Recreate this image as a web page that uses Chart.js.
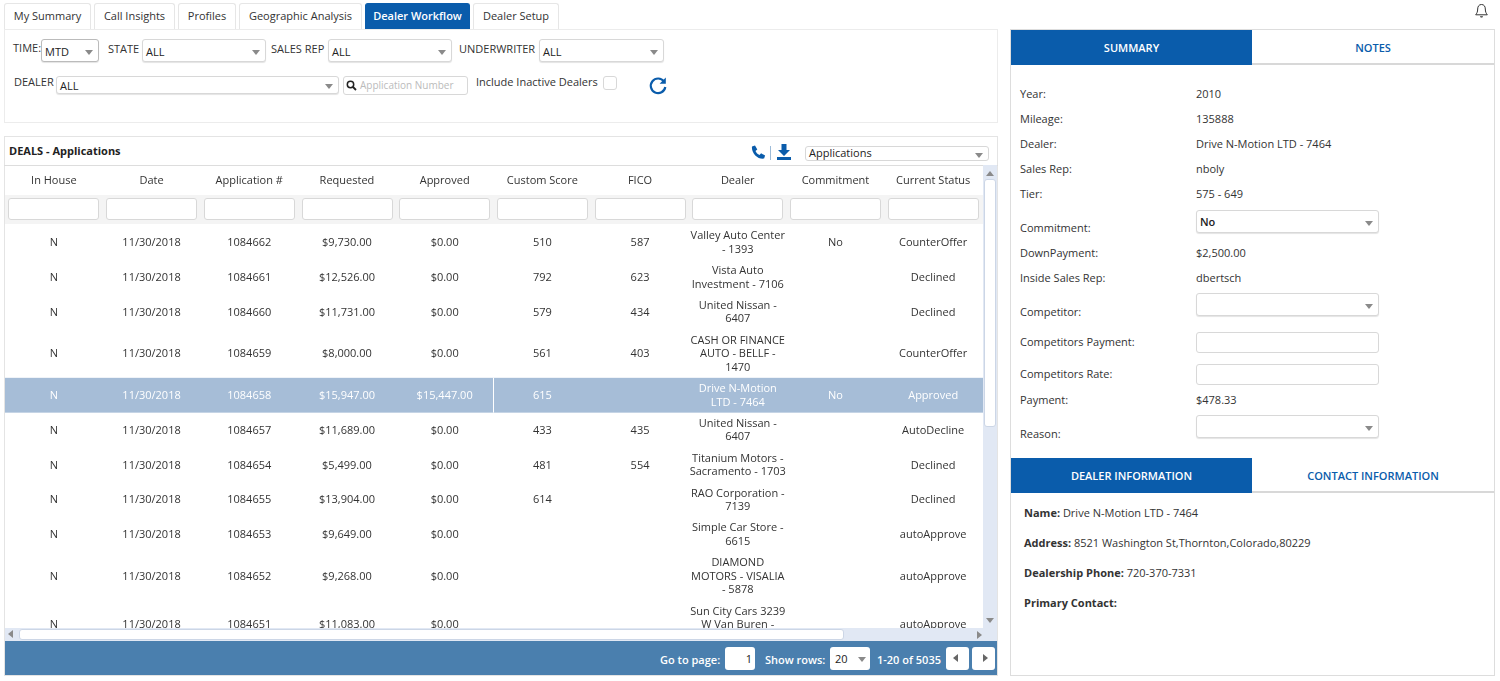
<!DOCTYPE html>
<html>
<head>
<meta charset="utf-8">
<title>Dealer Workflow</title>
<script src="https://cdn.jsdelivr.net/npm/chart.js@4"></script>
<style>
  html, body { margin: 0; padding: 0; background: #fff; width: 1500px; height: 681px; overflow: hidden; }
  body { font: 11px "Open Sans", sans-serif; color: #333; position: relative; }
  .a { position: absolute; white-space: nowrap; }
  .tab { position: absolute; top: 3px; height: 26px; line-height: 24px; text-align: center; border: 1px solid #e6e6e6; border-bottom: 0; border-radius: 3px 3px 0 0; box-sizing: border-box; background: #fff; }
  .tab.on { background: #0a5cab; color: #fff; font-weight: 600; border-color: #0a5cab; }
  .sel, .inp { position: absolute; box-sizing: border-box; border: 1px solid #d8d8d8; border-radius: 3px; background: #fff; }
  .sel { box-shadow: 0 1px 1px #e4e4e4; }
  .sel span { position: absolute; left: 3px; bottom: 2px; color: #222; }
  .sel:after { content: ""; position: absolute; right: 5px; top: 50%; margin-top: -1px; border: 4px solid transparent; border-top: 5px solid #8a8a8a; border-bottom: 0; }
  .box { position: absolute; box-sizing: border-box; border: 1px solid #e4e4e4; background: #fff; }
  .ptab { position: absolute; height: 35px; line-height: 35px; text-align: center; font-weight: 600; box-sizing: border-box; }
  .ptab.on { background: #0a5cab; color: #fff; }
  .ptab.off { color: #0a5cab; background: #fff; border-bottom: 2px solid #d8d8d8; }
  #wrap { position: absolute; left: 5px; top: 165px; width: 978px; height: 463px; }
  #filter { position: absolute; left: 5px; top: 195px; width: 978px; height: 29px; background: #f4f4f4; }
  .track { position: absolute; background: #e1e8f4; }
  .thumb { position: absolute; background: #fff; border: 1px solid #ccd6e6; border-radius: 3px; box-sizing: border-box; }
  .arrow { position: absolute; width: 0; height: 0; border: 4px solid transparent; }
  .pager { position: absolute; left: 5px; top: 641px; width: 992px; height: 34px; background: #4a7fae; }
  .pl { position: absolute; color: #fff; font-weight: 600; top: 11px; white-space: nowrap; }
  .pb { position: absolute; background: #fff; border-radius: 3px; top: 6px; height: 23px; box-sizing: border-box; }
</style>
</head>
<body>
<div id="root"></div>
<div class="box" style="left:4px;top:136px;width:994px;height:540px"></div>
<div id="filter"></div>
<div id="wrap"><canvas id="myChart" width="978" height="463"></canvas></div>
<div id="chrome"></div>

<script>
// Table data
const columns = ['In House', 'Date', 'Application #', 'Requested', 'Approved', 'Custom Score', 'FICO', 'Dealer', 'Commitment', 'Current Status'];
const inHouse = ['N', 'N', 'N', 'N', 'N', 'N', 'N', 'N', 'N', 'N', 'N'];
const dates = ['11/30/2018', '11/30/2018', '11/30/2018', '11/30/2018', '11/30/2018', '11/30/2018', '11/30/2018', '11/30/2018', '11/30/2018', '11/30/2018', '11/30/2018'];
const appNumbers = ['1084662', '1084661', '1084660', '1084659', '1084658', '1084657', '1084654', '1084655', '1084653', '1084652', '1084651'];
const requested = ['$9,730.00', '$12,526.00', '$11,731.00', '$8,000.00', '$15,947.00', '$11,689.00', '$5,499.00', '$13,904.00', '$9,649.00', '$9,268.00', '$11,083.00'];
const approved = ['$0.00', '$0.00', '$0.00', '$0.00', '$15,447.00', '$0.00', '$0.00', '$0.00', '$0.00', '$0.00', '$0.00'];
const customScores = ['510', '792', '579', '561', '615', '433', '481', '614', '', '', ''];
const ficoScores = ['587', '623', '434', '403', '', '435', '554', '', '', '', ''];
const dealers = [
  ['Valley Auto Center', '- 1393'],
  ['Vista Auto', 'Investment - 7106'],
  ['United Nissan -', '6407'],
  ['CASH OR FINANCE', 'AUTO - BELLF -', '1470'],
  ['Drive N-Motion', 'LTD - 7464'],
  ['United Nissan -', '6407'],
  ['Titanium Motors -', 'Sacramento - 1703'],
  ['RAO Corporation -', '7139'],
  ['Simple Car Store -', '6615'],
  ['DIAMOND', 'MOTORS - VISALIA', '- 5878'],
  ['Sun City Cars 3239', 'W Van Buren -', '']
];
const commitments = ['No', '', '', '', 'No', '', '', '', '', '', ''];
const statuses = ['CounterOffer', 'Declined', 'Declined', 'CounterOffer', 'Approved', 'AutoDecline', 'Declined', 'Declined', 'autoApprove', 'autoApprove', 'autoApprove'];
const selectedRow = 4;

const tabNames = ['My Summary', 'Call Insights', 'Profiles', 'Geographic Analysis', 'Dealer Workflow', 'Dealer Setup'];
const summaryLabels = ['Year:', 'Mileage:', 'Dealer:', 'Sales Rep:', 'Tier:', 'Commitment:', 'DownPayment:', 'Inside Sales Rep:', 'Competitor:', 'Competitors Payment:', 'Competitors Rate:', 'Payment:', 'Reason:'];
const summaryValues = ['2010', '135888', 'Drive N-Motion LTD - 7464', 'nboly', '575 - 649', '', '$2,500.00', 'dbertsch', '', '', '', '$478.33', ''];
const dealerInfoLabels = ['Name:', 'Address:', 'Dealership Phone:', 'Primary Contact:'];
const dealerInfoValues = ['Drive N-Motion LTD - 7464', '8521 Washington St,Thornton,Colorado,80229', '720-370-7331', ''];

// y axis is counted in text lines, a row is its dealer lines plus some padding
const rowPad = 0.58;
const linePx = 13.5;
let rowTops = [];
let rowMids = [];
let runningTop = 0;
dealers.forEach(lines => {
  rowTops.push(runningTop);
  rowMids.push(runningTop + (lines.length + rowPad) / 2);
  runningTop += lines.length + rowPad;
});

const columnValues = [inHouse, dates, appNumbers, requested, approved, customScores, ficoScores, dealers, commitments, statuses];

const datasets = columns.map((name, c) => ({
  label: name,
  showLine: false,
  pointRadius: 0,
  data: columnValues[c].map((v, r) => ({ x: name, y: rowMids[r], cell: v, row: r }))
}));

// draws the selected row band and the cell text at the positions the scales gave
const cellText = {
  id: 'cellText',
  beforeDatasetsDraw(chart) {
    const { ctx, chartArea, scales } = chart;
    const top = scales.y.getPixelForValue(rowTops[selectedRow]);
    const bottom = scales.y.getPixelForValue(rowTops[selectedRow + 1]);
    ctx.save();
    ctx.fillStyle = '#a6bdd7';
    ctx.fillRect(chartArea.left, top, chart.width, bottom - top);
    // the resize handle between Approved and Custom Score
    const edge = Math.round((scales.x.getPixelForValue(4) + scales.x.getPixelForValue(5)) / 2) - 0.5;
    ctx.strokeStyle = '#fff';
    ctx.beginPath();
    ctx.moveTo(edge, top);
    ctx.lineTo(edge, bottom);
    ctx.stroke();
    ctx.restore();
  },
  afterDatasetsDraw(chart) {
    const ctx = chart.ctx;
    ctx.save();
    ctx.font = '11px "Open Sans"';
    ctx.textAlign = 'center';
    ctx.textBaseline = 'middle';
    chart.data.datasets.forEach((ds, i) => {
      chart.getDatasetMeta(i).data.forEach((pt, j) => {
        const raw = ds.data[j];
        const lines = Array.isArray(raw.cell) ? raw.cell : [raw.cell];
        ctx.fillStyle = raw.row === selectedRow ? '#fff' : '#333';
        lines.forEach((line, k) => {
          if (line) ctx.fillText(line, pt.x, pt.y + 0.5 + (k - (lines.length - 1) / 2) * linePx);
        });
      });
    });
    ctx.restore();
  }
};

new Chart(document.getElementById('myChart'), {
  type: 'line',
  data: { labels: columns, datasets: datasets },
  plugins: [cellText],
  options: {
    responsive: false,
    animation: false,
    events: [],
    layout: { padding: { right: 1 } },
    plugins: { legend: { display: false }, tooltip: { enabled: false } },
    scales: {
      x: {
        type: 'category',
        position: 'top',
        offset: true,
        grid: { display: false, drawTicks: false },
        border: { display: false },
        ticks: { color: '#333', padding: 38, maxRotation: 0, autoSkip: false, font: { family: 'Open Sans', size: 11 } },
        afterFit(scale) {
          scale.height = 60;
          scale.paddingLeft = 0;
          scale.paddingRight = 0;
        }
      },
      y: {
        display: false,
        reverse: true,
        min: 0,
        max: 403 / linePx
      }
    }
  }
});

// page chrome around the chart
let html = '';
const tabLefts = [4, 94, 178, 239, 365, 473];
const tabWidths = [87, 81, 58, 123, 105, 86];
tabNames.forEach((t, i) => {
  html += `<div class="tab${i === 4 ? ' on' : ''}" style="left:${tabLefts[i]}px;width:${tabWidths[i]}px">${t}</div>`;
});
html += '<div class="box" style="left:4px;top:29px;width:994px;height:94px;border-color:#ececec"></div>';

function label(text, x, y, extra) {
  html += `<div class="a" style="left:${x}px;top:${y - 8}px;line-height:16px;${extra || ''}">${text}</div>`;
}
function select(x, y, w, h, text, extra, textBottom) {
  const b = textBottom === undefined ? 2 : textBottom;
  html += `<div class="sel" style="left:${x}px;top:${y}px;width:${w}px;height:${h}px;${extra || ''}"><span style="bottom:${b}px">${text}</span></div>`;
}
function input(x, y, w, h) {
  html += `<div class="inp" style="left:${x}px;top:${y}px;width:${w}px;height:${h}px"></div>`;
}

label('TIME:', 13, 48);
select(41, 39, 58, 23, 'MTD', 'border-color:#bbb');
label('STATE', 108, 49);
select(142, 39, 124, 23, 'ALL');
label('SALES REP', 271, 49);
select(328, 39, 124, 23, 'ALL');
label('UNDERWRITER', 459, 49);
select(539, 39, 125, 23, 'ALL');
label('DEALER', 14, 82);
select(56, 76, 283, 18, 'ALL', '', 0);
input(343, 76, 125, 19);
html += '<svg class="a" style="left:346px;top:80px" width="11" height="11" viewBox="0 0 11 11"><circle cx="4.5" cy="4.5" r="3.2" fill="none" stroke="#222" stroke-width="1.5"/><path d="M7 7l3 3" stroke="#222" stroke-width="1.8"/></svg>';
label('Application Number', 360, 85, 'color:#bbb;font-size:10px');
label('Include Inactive Dealers', 476, 82);
input(603, 76, 14, 14);
html += '<svg class="a" style="left:648px;top:76px" width="20" height="20" viewBox="0 0 20 20"><path d="M16 5.500A7.300 7.300 0 1 0 17.300 11" fill="none" stroke="#0a5cab" stroke-width="2.200"/><path d="M17.800 1.500v6.200h-6.200z" fill="#0a5cab"/></svg>';

html += '<div class="a" style="left:4px;top:165px;width:994px;height:1px;background:#ddd"></div>';
label('DEALS - Applications', 9, 151, 'font-weight:700;color:#222');
html += '<svg class="a" style="left:750px;top:145px" width="16" height="16" viewBox="0 0 16 16"><path d="M2 1.500l3-1 2.300 4-1.800 1.600c.8 1.800 2.200 3.200 4 4l1.600-1.800 4 2.300-1 3c-6 1.200-13-5.500-12.100-12.100z" fill="#0a5cab"/></svg>';
html += '<div class="a" style="left:770px;top:146px;width:1px;height:14px;background:#9dbbd8"></div>';
html += '<svg class="a" style="left:776px;top:144px" width="16" height="16" viewBox="0 0 16 16"><path d="M5.500 0h5v6h3.500L8 12 2 6h3.500zM1 13h14v3H1z" fill="#0a5cab"/></svg>';
select(805, 146, 184, 15, 'Applications', 'box-shadow:none', 0);

const filterBoxLefts = [8, 106, 204, 302, 399, 497, 595, 692, 790, 888];
filterBoxLefts.forEach(x => input(x, 198, 91, 22));

// scrollbars
html += '<div class="track" style="left:983px;top:165px;width:14px;height:476px"></div>';
html += '<div class="thumb" style="left:984px;top:179px;width:12px;height:248px"></div>';
html += '<div class="arrow" style="left:986px;top:165px;border-bottom:5px solid #8a8a8a;border-top:0;margin-top:6px"></div>';
html += '<div class="arrow" style="left:986px;top:618px;border-top:5px solid #8a8a8a;border-bottom:0"></div>';
html += '<div class="track" style="left:5px;top:628px;width:978px;height:13px"></div>';
html += '<div class="thumb" style="left:19px;top:629px;width:825px;height:11px"></div>';
html += '<div class="arrow" style="left:8px;top:630px;border-right:5px solid #8a8a8a;border-left:0"></div>';
html += '<div class="arrow" style="left:977px;top:631px;border-left:5px solid #8a8a8a;border-right:0"></div>';

// pager
html += '<div class="pager">';
html += '<div class="pl" style="left:655px">Go to page:</div>';
html += '<div class="pb" style="left:720px;width:30px;text-align:right;line-height:23px;padding-right:3px;color:#222">1</div>';
html += '<div class="pl" style="left:760px">Show rows:</div>';
html += '<div class="pb" style="left:825px;width:40px;line-height:23px;padding-left:5px;color:#222">20<i class="arrow" style="left:28px;top:10px;border-top:5px solid #8a8a8a;border-bottom:0"></i></div>';
html += '<div class="pl" style="left:872px">1-20 of 5035</div>';
html += '<div class="pb" style="left:941px;width:23px"><i class="arrow" style="left:7px;top:7px;border-right:5px solid #666;border-left:0"></i></div>';
html += '<div class="pb" style="left:967px;width:23px"><i class="arrow" style="left:11px;top:7px;border-left:5px solid #666;border-right:0"></i></div>';
html += '</div>';

// right panel
html += '<svg class="a" style="left:1474px;top:3px" width="15" height="16" viewBox="0 0 15 16"><path d="M7.500 1.500c-2.600 0-3.800 2-3.800 4.500 0 3-1 4.500-2 5.800h11.600c-1-1.300-2-2.800-2-5.800 0-2.500-1.200-4.500-3.800-4.500z" fill="none" stroke="#333"/><path d="M6 13.300h3c0 1.600-3 1.600-3 0z" fill="#333"/></svg>';
html += '<div class="box" style="left:1010px;top:29px;width:485px;height:647px;border-color:#ddd"></div>';
html += '<div class="ptab on" style="left:1011px;top:30px;width:241px">SUMMARY</div>';
html += '<div class="ptab off" style="left:1252px;top:30px;width:242px">NOTES</div>';
const summaryY = [94, 119, 144, 169, 194, 228, 253, 278, 312, 342, 374, 400, 434];
summaryLabels.forEach((t, i) => {
  label(t, 1020, summaryY[i]);
  if (summaryValues[i]) label(summaryValues[i], 1196, summaryY[i]);
});
select(1196, 210, 183, 23, 'No', 'font-weight:600', 3);
select(1196, 293, 183, 23, '');
input(1196, 332, 183, 21);
input(1196, 364, 183, 21);
select(1196, 415, 183, 23, '');
html += '<div class="ptab on" style="left:1011px;top:458px;width:241px">DEALER INFORMATION</div>';
html += '<div class="ptab off" style="left:1252px;top:458px;width:242px">CONTACT INFORMATION</div>';
const infoY = [513, 543, 573, 603];
dealerInfoLabels.forEach((t, i) => {
  label(`<b style="font-weight:700">${t}</b> ${dealerInfoValues[i]}`, 1024, infoY[i]);
});
document.getElementById('chrome').innerHTML = html;
</script>
</body>
</html>
